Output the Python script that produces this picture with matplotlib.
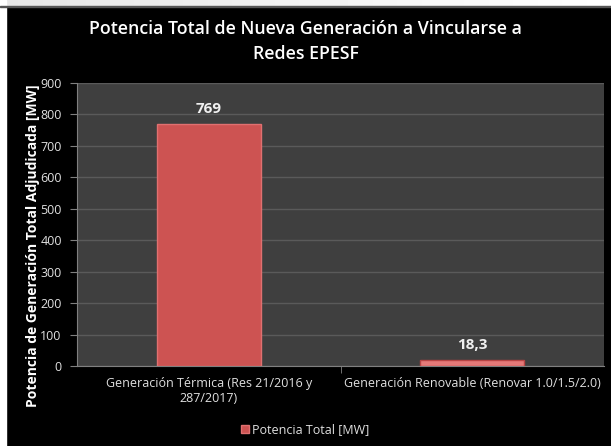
import numpy as np
import matplotlib.pyplot as plt
from matplotlib.patches import Rectangle

categories = ["Generación Térmica (Res 21/2016 y\n287/2017)",
              "Generación Renovable (Renovar 1.0/1.5/2.0)"]
values = [769, 18.3]
value_labels = ["769", "18,3"]
yticks = [0, 100, 200, 300, 400, 500, 600, 700, 800, 900]

plt.rcParams['font.family'] = ['Open Sans', 'DejaVu Sans']

fig = plt.figure(figsize=(6.11, 4.46), dpi=100, facecolor="black")

# light frame strips: gradient on top, white on the left
top = fig.add_axes([0, 1 - 6 / 446, 1, 6 / 446])
top.imshow(np.linspace(0.90, 1.0, 100)[None, :], cmap="gray", vmin=0, vmax=1,
           aspect="auto", extent=[0, 1, 0, 1])
top.axis("off")
fig.patches.append(Rectangle((0, 0), 6 / 611, 1, transform=fig.transFigure,
                             color="white", zorder=0))
fig.patches.append(Rectangle((0, 1 - 7 / 446), 1, 1 / 446, transform=fig.transFigure,
                             color="#555555", zorder=1))

ax = fig.add_axes([77 / 611, 1 - 366 / 446, 527 / 611, 283 / 446])
ax.set_facecolor("#3f3f3f")

x = range(len(categories))
bars = ax.bar(x, values, width=0.395, color=["#cd5352", "#e57a79"],
              edgecolor=["#e07070", "#b84444"], linewidth=1, zorder=3)
for xi, v, lab in zip(x, values, value_labels):
    ax.text(xi, v + 25, lab, ha="center", va="bottom", color="#f0f0f0",
            fontsize=11, fontweight="bold")

ax.set_xlim(-0.5, 1.5)
ax.set_ylim(0, 900)
ax.set_yticks(yticks)
ax.set_xticks(list(x))
ax.set_xticklabels(categories, color="#e0e0e0", fontsize=9)
ax.tick_params(axis="y", colors="#e0e0e0", labelsize=9, length=5, pad=6,
               color="#808080")
ax.tick_params(axis="x", length=0, pad=8)
ax.set_xticks([0.5], minor=True)
ax.tick_params(axis="x", which="minor", length=5, color="#808080")
ax.grid(axis="y", color="#5a5a5a", linewidth=1, zorder=0)
for s in ["top", "right"]:
    ax.spines[s].set_visible(False)
ax.spines["left"].set_color("#808080")
ax.spines["bottom"].set_color("#808080")

ax.set_ylabel("Potencia de Generación Total Adjudicada [MW]", color="white",
              fontsize=10, fontweight="bold", va="center")
ax.yaxis.set_label_coords((33 - 77) / 527, (366 - 246) / 283)

fig.text(0.5, 1 - 29 / 446, "Potencia Total de Nueva Generación a Vincularse a",
         ha="center", va="center", color="white", fontsize=12.8,
         fontweight="semibold")
fig.text(0.5, 1 - 54 / 446, "Redes EPESF",
         ha="center", va="center", color="white", fontsize=12.8,
         fontweight="semibold")

leg = fig.legend([bars[0]], ["Potencia Total [MW]"], loc="center",
                 bbox_to_anchor=(0.5, 1 - 430 / 446), frameon=False,
                 fontsize=9, handlelength=0.6, handleheight=0.6,
                 handletextpad=0.3, labelcolor="#e0e0e0")

fig.savefig("out.png", dpi=100, facecolor="black")
